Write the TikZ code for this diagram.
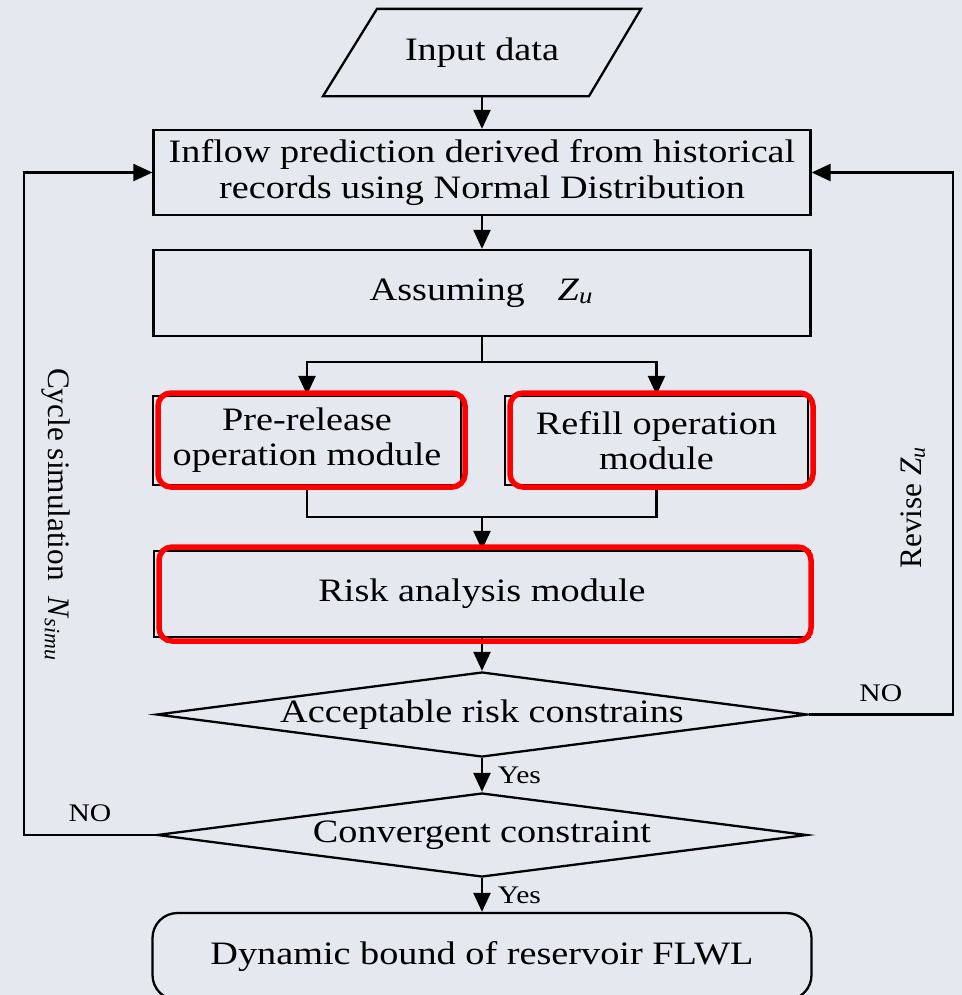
\documentclass[tikz,border=0pt]{standalone}
\usepackage{fontspec}
\setmainfont{Liberation Serif}[FakeStretch=1.17]
\newfontfamily\plainserif{Liberation Serif}
\usetikzlibrary{arrows.meta,shapes.geometric}
\definecolor{slidebg}{RGB}{229,232,239}
\definecolor{markred}{RGB}{255,0,0}

\begin{document}
\begin{tikzpicture}[>={Triangle[length=0.19cm,width=0.17cm]},line width=0.65pt,
    font=\fontsize{9.3}{10}\selectfont]

      \clip (0,0) rectangle (9.62,-9.95);
      \fill[slidebg] (0,0) rectangle (9.62,-9.95);

      % input parallelogram
      \node[minimum height=0.85cm,inner sep=0pt] (input) at (4.82,-0.525) {Input data};
      \draw ([xshift=-1.59cm]input.south) -- ([xshift=-1.05cm]input.north)
        -- ([xshift=1.59cm]input.north) -- ([xshift=1.07cm]input.south) -- cycle;

      \begin{scope}[every node/.style={draw,rectangle,inner sep=0pt,align=center}]
        \node[minimum width=6.57cm,minimum height=0.85cm] (inflow) at (4.82,-1.725)
          {Inflow prediction derived from historical\\records using Normal Distribution};
        \node[minimum width=6.57cm,minimum height=0.86cm] (assume) at (4.82,-2.93)
          {Assuming\quad\textit{Z}\textsubscript{\textit{u}}};
        \node[minimum width=3.08cm,minimum height=0.89cm] (pre)    at (3.07,-4.405)
          {Pre-release\\operation module};
        \node[minimum width=3.03cm,minimum height=0.89cm] (refill) at (6.565,-4.405)
          {Refill operation\\module};
        \node[minimum width=6.56cm,minimum height=0.86cm] (risk)   at (4.82,-5.94)
          {Risk analysis module};
        \node[diamond,aspect=7.6,minimum width=6.51cm,minimum height=0.85cm] (accept) at (4.82,-7.145)
          {Acceptable risk constrains};
        \node[diamond,aspect=7.6,minimum width=6.50cm,minimum height=0.84cm] (conv)   at (4.82,-8.35)
          {Convergent constraint};
        \node[rounded corners=0.25cm,minimum width=6.59cm,minimum height=0.87cm] (bound) at (4.82,-9.565)
          {Dynamic bound of reservoir FLWL};
      \end{scope}

      \coordinate (split) at (4.82,-3.62);
      \coordinate (join)  at (4.82,-5.17);
      \coordinate (rback) at (9.53,-7.145);
      \coordinate (lback) at (0.24,-8.35);

      \begin{scope}[every edge/.style={draw,->}]
        \path (input)  edge (inflow);
        \path (inflow) edge (assume);
        \path (join)   edge (risk);
        \path (risk)   edge (accept);
        \path (accept) edge node[right,xshift=0.03cm,font=\fontsize{7.2}{8}\selectfont] {Yes} (conv);
        \path (conv)   edge node[right,xshift=0.03cm,font=\fontsize{7.2}{8}\selectfont] {Yes} (bound);
      \end{scope}

      \draw (assume) -- (split);
      \draw[->] (split) -| (pre);
      \draw[->] (split) -| (refill);
      \draw (pre) |- (join) -| (refill);
      \draw[->] (accept.east) -- node[above,font=\fontsize{7.2}{8}\selectfont] {NO} (rback) |- (inflow.east);
      \draw[->] (conv.west) -- node[above,font=\fontsize{7.2}{8}\selectfont] {NO} (lback) |- (inflow.west);

      % red highlight frames
      \begin{scope}[every node/.style={draw=markred,line width=0.055cm,rounded corners=0.13cm,inner sep=0pt}]
        \node[minimum width=3.07cm,minimum height=0.94cm] (prered)    at (3.115,-4.40) {};
        \node[minimum width=3.03cm,minimum height=0.94cm] (refillred) at (6.615,-4.40) {};
        \node[minimum width=6.52cm,minimum height=0.94cm] (riskred)   at (4.85,-5.94)  {};
      \end{scope}

      % side labels
      \node[rotate=-90,font=\plainserif\fontsize{8.9}{10}\selectfont] (cycle) at (0.56,-5.15)
        {Cycle simulation\ \ \textit{N}\textsubscript{\textit{simu}}};
      \node[rotate=90,font=\plainserif\fontsize{8.9}{10}\selectfont] (revise) at (9.13,-5.07)
        {Revise\ \textit{Z}\textsubscript{\textit{u}}};

    \end{tikzpicture}
\end{document}
